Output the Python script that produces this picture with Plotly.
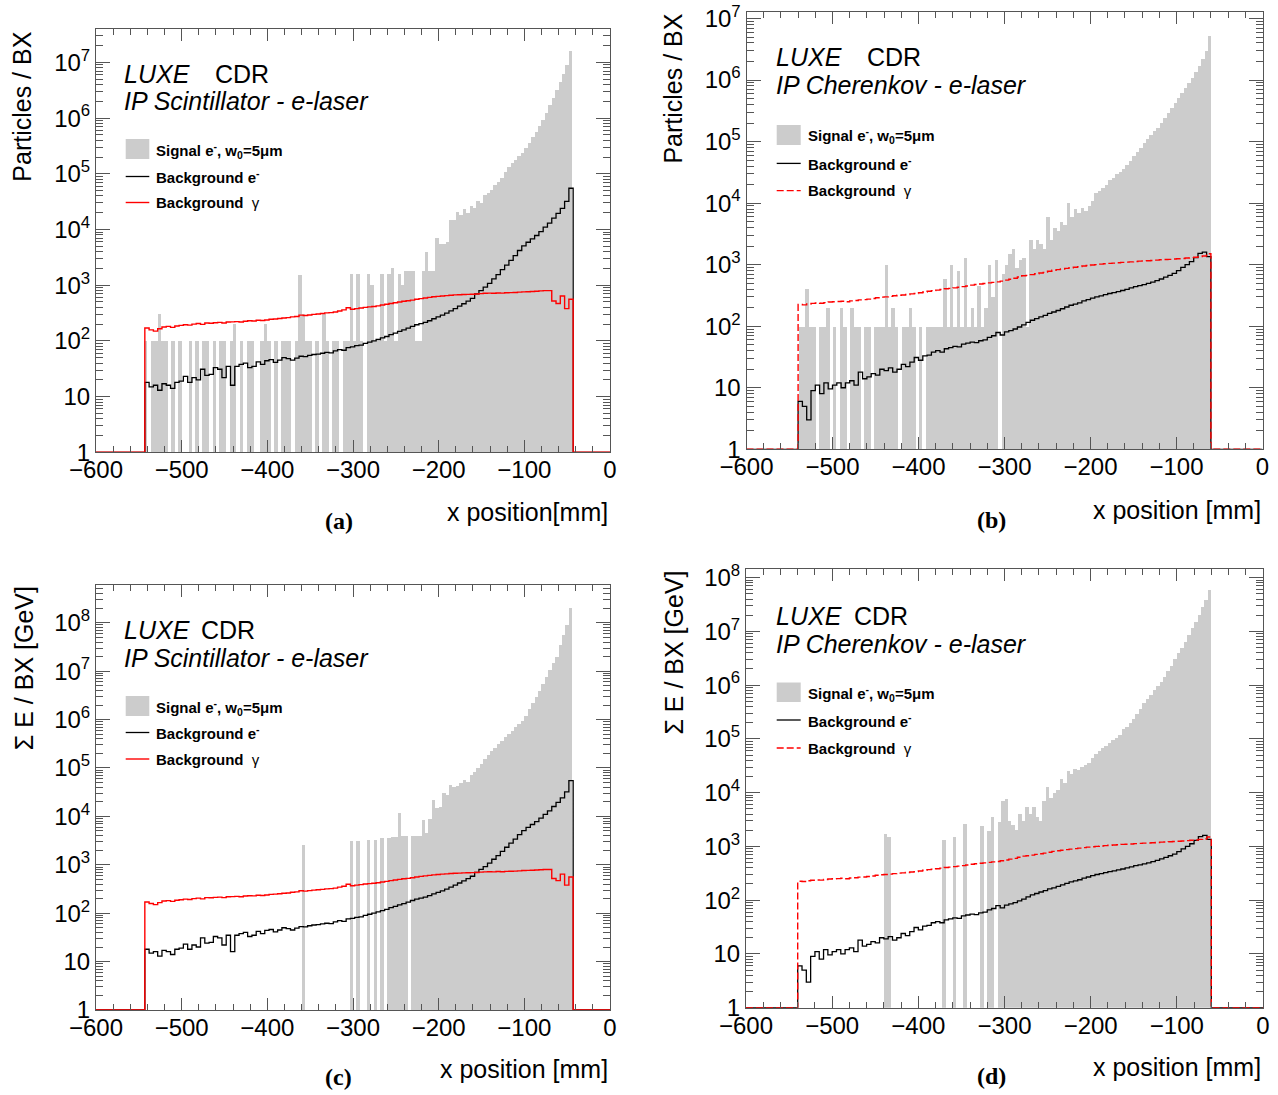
import numpy as np
import plotly.graph_objects as go

W, H = 1278, 1095

# ---------------- data ----------------
# Signal e- histograms: 4 mm bins, first bin left edge given
SIG_BIN = 4
SIG_AC_START = -544
SIG_BD_START = -540

signal_a = [
    100, 0, 100, 100, 300, 100, 100, 0, 100, 0,
    100, 0, 0, 100, 0, 100, 0, 100, 100, 0,
    100, 0, 100, 100, 0, 100, 200, 0, 100, 0,
    100, 100, 0, 0, 100, 200, 100, 0, 100, 0,
    100, 100, 100, 0, 100, 1500, 300, 100, 100, 0,
    100, 0, 300, 100, 0, 100, 100, 0, 100, 100,
    1600, 100, 1600, 100, 0, 1600, 1000, 100, 100, 1600,
    100, 1600, 2000, 100, 1600, 1000, 1800, 1800, 1800, 100,
    100, 1800, 4000, 1800, 1800, 7000, 5500, 5500, 6000, 15000,
    15000, 21000, 18000, 23500, 20000, 26500, 24000, 32000, 30000, 41000,
    46000, 52000, 63000, 72000, 85000, 1.07e5, 1.35e5, 1.55e5, 1.8e5, 2.05e5,
    2.4e5, 2.9e5, 3.6e5, 4.6e5, 5.7e5, 7.2e5, 9.3e5, 1.26e6, 1.7e6, 2.3e6,
    3.2e6, 4.5e6, 6.3e6, 8.9e6, 1.6e7,
]

signal_c = (
    [0] * 40 +
    [0, 0, 0, 0, 0, 0, 2600, 0, 0, 0] +
    [0] * 10 +
    [3100, 0, 3100, 0, 0, 3300, 0, 3300, 0, 3600,
     0, 3600, 3700, 3700, 12000, 3900, 3900, 0, 3900, 3900,
     4000, 8500, 4500, 9000, 22000, 15000, 16000, 30000, 28000, 45000,
     40000, 43000, 49000, 56000, 52000, 72000, 83000, 1.0e5, 1.2e5, 1.5e5,
     1.85e5, 2.2e5, 2.6e5, 3.1e5, 3.6e5, 4.3e5, 5.0e5, 5.9e5, 6.9e5, 8.1e5,
     9.5e5, 1.2e6, 1.65e6, 2.2e6, 2.9e6, 3.9e6, 5.4e6, 7.4e6, 1.05e7, 1.45e7,
     2.0e7, 3.4e7, 5.6e7, 9.2e7, 2.0e8]
)

signal_b = [
    100, 100, 400, 100, 100, 0, 100, 100, 200, 0,
    100, 0, 200, 100, 0, 200, 100, 100, 0, 100,
    100, 0, 100, 100, 100, 1000, 100, 200, 100, 0,
    100, 100, 200, 100, 0, 100, 0, 100, 100, 100,
    100, 100, 600, 100, 1000, 100, 800, 100, 1300, 100,
    200, 100, 450, 100, 200, 1000, 300, 1200, 0, 700,
    1000, 1500, 1800, 900, 1200, 1300, 100, 2500, 1800, 2500,
    2200, 1800, 6000, 2500, 4000, 3500, 5000, 4500, 10000, 6000,
    8000, 7000, 8500, 7500, 9000, 11000, 15000, 16000, 18000, 20000,
    24000, 26000, 30000, 32000, 36000, 42000, 48000, 58000, 68000, 80000,
    95000, 1.1e5, 1.3e5, 1.5e5, 1.7e5, 2.0e5, 2.4e5, 2.9e5, 3.5e5, 4.3e5,
    5.2e5, 6.2e5, 7.5e5, 9.0e5, 1.1e6, 1.35e6, 1.7e6, 2.2e6, 3.0e6, 5.2e6,
]

signal_d = (
    [0] * 20 +
    [0, 0, 0, 0, 0, 1700, 1500, 0, 0, 0] +
    [0] * 10 +
    [0, 0, 1300, 0, 0, 1500, 0, 0, 2600, 0,
     0, 0, 0, 2400, 0, 1900, 3500, 0, 2900, 7000,
     7500, 3000, 2500, 2000, 4000, 3000, 5500, 4000, 5500, 3500,
     3000, 7000, 13000, 8000, 10000, 11000, 18000, 15000, 25000, 22000,
     28000, 26000, 30000, 32000, 35000, 45000, 52000, 60000, 68000, 75000,
     85000, 95000, 1.05e5, 1.2e5, 1.5e5, 1.7e5, 2.0e5, 2.3e5, 2.9e5, 3.6e5,
     4.6e5, 5.5e5, 6.5e5, 8.0e5, 9.5e5, 1.15e6, 1.4e6, 1.8e6, 2.3e6, 3.0e6,
     4.0e6, 5.0e6, 6.3e6, 8.5e6, 1.15e7, 1.5e7, 2.0e7, 2.8e7, 3.8e7, 5.8e7]
)

# Background histograms: 5 mm bins
BKG_BIN = 5
BKG_AC_START = -543
BKG_BD_START = -540

bkg_e_ac = [
    18, 15, 16, 13, 17, 16, 14, 18, 19, 23,
    18, 22, 20, 31, 24, 25, 33, 31, 22, 35,
    16, 35, 38, 40, 33, 35, 42, 38, 44, 46,
    41, 45, 50, 48, 45, 49, 53, 52, 55, 57,
    58, 60, 62, 61, 66, 70, 68, 76, 78, 82,
    84, 90, 95, 100, 106, 113, 120, 130, 138, 148,
    158, 170, 183, 195, 205, 215, 230, 250, 270, 290,
    315, 345, 380, 420, 465, 520, 580, 700, 800, 920,
    1080, 1300, 1550, 1900, 2300, 2800, 3400, 4200, 5100, 5900,
    6800, 7800, 9200, 11000, 13000, 16000, 19500, 24000, 32000, 55000,
]

bkg_g_ac = [
    170, 158, 150, 165, 178, 182, 175, 185, 190, 195,
    192, 200, 205, 198, 210, 208, 212, 215, 210, 218,
    220, 222, 218, 226, 230, 228, 235, 232, 238, 245,
    248, 252, 258, 262, 270, 275, 290, 285, 292, 300,
    305, 310, 318, 322, 330, 345, 360, 395, 370, 380,
    390, 400, 408, 415, 425, 440, 455, 470, 485, 500,
    515, 525, 540, 560, 575, 590, 605, 620, 630, 640,
    650, 660, 670, 672, 680, 685, 690, 695, 705, 715,
    720, 715, 725, 720, 730, 735, 740, 750, 760, 765,
    770, 780, 790, 800, 800, 520, 470, 640, 380, 560,
]

bkg_e_bd = [
    6, 5, 3, 9, 11, 8, 12, 9.6, 11, 12,
    10, 12, 13, 11, 18, 14, 15, 17, 16, 20,
    19, 21, 18, 20, 24, 22, 26, 31, 28, 33,
    34, 38, 40, 38, 43, 45, 47, 46, 51, 53,
    55, 54, 58, 60, 66, 70, 79, 72, 81, 85,
    90, 97, 105, 115, 125, 133, 142, 150, 162, 170,
    180, 192, 205, 219, 228, 240, 258, 270, 285, 300,
    312, 325, 340, 352, 365, 380, 398, 418, 438, 455,
    475, 495, 520, 550, 585, 625, 670, 720, 800, 900,
    1000, 1120, 1300, 1520, 1600, 1350,
]

bkg_g_bd = [
    225, 222, 230, 235, 238, 236, 242, 248, 250, 252,
    255, 250, 258, 262, 268, 270, 275, 282, 290, 297,
    300, 305, 312, 318, 322, 328, 335, 340, 350, 360,
    370, 378, 385, 395, 405, 412, 420, 430, 440, 450,
    465, 475, 485, 495, 505, 515, 525, 540, 560, 580,
    600, 630, 660, 670, 690, 710, 730, 750, 780, 810,
    830, 850, 870, 890, 910, 930, 950, 970, 985, 1000,
    1020, 1035, 1050, 1060, 1075, 1090, 1100, 1110, 1125, 1140,
    1150, 1160, 1170, 1185, 1200, 1210, 1220, 1235, 1250, 1260,
    1280, 1300, 1320, 1350, 1380, 1500,
]

X_TICKS = [-600, -500, -400, -300, -200, -100, 0]

# ---------------- styling ----------------
SANS = "Liberation Sans, Arial, Helvetica, sans-serif"
SERIF = "Liberation Serif, Times New Roman, serif"
FRAME = "#555555"
GREY = "#cccccc"
RED = "#ff0000"


def px(x):
    return x / W


def py(y):
    return 1 - y / H


panels = [
    dict(xd=(96, 610), yd=(29, 452.3), ymax=7.6, top=7, sig=signal_a, s0=SIG_AC_START,
         e=bkg_e_ac, g=bkg_g_ac, b0=BKG_AC_START, dashed=False,
         luxe=(122.4, 74), cdr_x=213, ip=(122.4, 101.4), sub="IP Scintillator - e-laser",
         rect=(125.7, 139, 149.3, 159), tx=154, ly=(150.7, 176.5, 202.5),
         yt="Particles / BX", ytx=22.4, yty=29.3, xt="x position[mm]", xtr=610, xty=512,
         lab="(a)", labxy=(338.8, 521)),
    dict(xd=(746.5, 1262.5), yd=(11.7, 449.3), ymax=7.11, top=7, sig=signal_b, s0=SIG_BD_START,
         e=bkg_e_bd, g=bkg_g_bd, b0=BKG_BD_START, dashed=True,
         luxe=(774.4, 57.1), cdr_x=864.9, ip=(774.4, 85), sub="IP Cherenkov - e-laser",
         rect=(776.7, 125, 800.7, 145), tx=805.7, ly=(136, 163.4, 190.6),
         yt="Particles / BX", ytx=672.6, yty=12, xt="x position [mm]", xtr=1263, xty=510,
         lab="(b)", labxy=(991.6, 520)),
    dict(xd=(96, 610), yd=(585, 1010), ymax=8.78, top=8, sig=signal_c, s0=SIG_AC_START,
         e=bkg_e_ac, g=bkg_g_ac, b0=BKG_AC_START, dashed=False,
         luxe=(122.4, 629.7), cdr_x=198.7, ip=(122.4, 657.5), sub="IP Scintillator - e-laser",
         rect=(125.7, 696, 149.3, 716), tx=154, ly=(707, 732.5, 759),
         yt="Σ E / BX [GeV]", ytx=23.5, yty=584.7, xt="x position [mm]", xtr=610, xty=1069,
         lab="(c)", labxy=(338, 1077)),
    dict(xd=(746, 1263), yd=(569, 1007.7), ymax=8.16, top=8, sig=signal_d, s0=SIG_BD_START,
         e=bkg_e_bd, g=bkg_g_bd, b0=BKG_BD_START, dashed=True,
         luxe=(774.4, 616), cdr_x=851.7, ip=(774.4, 643.7), sub="IP Cherenkov - e-laser",
         rect=(776.7, 682.5, 800.7, 702), tx=805.7, ly=(693, 720, 748),
         yt="Σ E / BX [GeV]", ytx=673.6, yty=569, xt="x position [mm]", xtr=1263, xty=1067,
         lab="(d)", labxy=(991, 1076)),
]


def step_xy(start, binw, vals):
    n = len(vals)
    xs = [-600] + [start + binw * i for i in range(n)] + [start + binw * n, 0]
    ys = [1] + list(vals) + [1, 1]
    return xs, ys


fig = go.Figure()
annotations = []
shapes = []
layout_axes = {}


def T(text, x, y, size=25, xa="left", ya="middle", family=SANS, angle=0):
    annotations.append(dict(text=text, x=px(x), y=py(y), xref="paper", yref="paper",
                            xanchor=xa, yanchor=ya, showarrow=False, textangle=angle,
                            font=dict(family=family, size=size, color="black")))


for k, p in enumerate(panels, start=1):
    xr = "x" if k == 1 else f"x{k}"
    yr = "y" if k == 1 else f"y{k}"

    # signal bars
    centers = [p["s0"] + SIG_BIN * (i + 0.5) for i in range(len(p["sig"]))]
    bx = [c for c, v in zip(centers, p["sig"]) if v > 0]
    by = [v for v in p["sig"] if v > 0]
    fig.add_trace(go.Bar(x=bx, y=by, width=SIG_BIN, marker=dict(color=GREY, line=dict(width=0)),
                         xaxis=xr, yaxis=yr, showlegend=False, hoverinfo="skip"))

    # background e- (black)
    xs, ys = step_xy(p["b0"], BKG_BIN, p["e"])
    fig.add_trace(go.Scatter(x=xs, y=ys, mode="lines", line=dict(color="black", width=1.3, shape="hv"),
                             xaxis=xr, yaxis=yr, showlegend=False, hoverinfo="skip"))
    # background gamma (red)
    xs, ys = step_xy(p["b0"], BKG_BIN, p["g"])
    fig.add_trace(go.Scatter(x=xs, y=ys, mode="lines",
                             line=dict(color=RED, width=1.4, shape="hv",
                                       dash="7px,3px" if p["dashed"] else "solid"),
                             xaxis=xr, yaxis=yr, showlegend=False, hoverinfo="skip"))

    yvals = [10 ** i for i in range(p["top"] + 1)]
    ytext = ["1", "10"] + [f"10<sup>{i}</sup>" for i in range(2, p["top"] + 1)]
    minor_vals = [m * 10 ** i for i in range(p["top"] + 1) for m in range(2, 10)]

    xname = "xaxis" if k == 1 else f"xaxis{k}"
    yname = "yaxis" if k == 1 else f"yaxis{k}"
    layout_axes[xname] = dict(
        domain=[px(p["xd"][0]), px(p["xd"][1])], range=[-600, 0], anchor=yr, automargin=False,
        tickmode="array", tickvals=X_TICKS, ticks="inside", ticklen=12, tickwidth=1,
        tickcolor=FRAME, showline=True, linecolor=FRAME, linewidth=1, mirror="ticks",
        showgrid=False, zeroline=False, ticklabelstandoff=-4,
        tickfont=dict(family=SANS, size=24, color="black"),
        minor=dict(dtick=20, tick0=0, ticks="inside", ticklen=6, tickcolor=FRAME, showgrid=False),
    )
    layout_axes[yname] = dict(
        domain=[py(p["yd"][1]), py(p["yd"][0])], type="log", range=[0, p["ymax"]], anchor=xr,
        automargin=False,
        tickmode="array", tickvals=yvals, ticktext=ytext, ticks="inside", ticklen=14, tickwidth=1,
        tickcolor=FRAME, showline=True, linecolor=FRAME, linewidth=1, mirror="ticks",
        showgrid=False, zeroline=False,
        tickfont=dict(family=SANS, size=24, color="black"),
        minor=dict(tickmode="array", tickvals=minor_vals, ticks="inside", ticklen=7,
                   tickcolor=FRAME, showgrid=False),
    )

    # texts
    T("<i>LUXE</i>", p["luxe"][0], p["luxe"][1])
    T("CDR", p["cdr_x"], p["luxe"][1])
    T(f"<i>{p['sub']}</i>", p["ip"][0], p["ip"][1])

    # legend
    x0, y0, x1, y1 = p["rect"]
    shapes.append(dict(type="rect", xref="paper", yref="paper", x0=px(x0), x1=px(x1),
                       y0=py(y1), y1=py(y0), fillcolor=GREY, line=dict(width=0)))
    shapes.append(dict(type="line", xref="paper", yref="paper", x0=px(x0), x1=px(x1),
                       y0=py(p["ly"][1]), y1=py(p["ly"][1]), line=dict(color="black", width=1.3)))
    shapes.append(dict(type="line", xref="paper", yref="paper", x0=px(x0), x1=px(x1),
                       y0=py(p["ly"][2]), y1=py(p["ly"][2]),
                       line=dict(color=RED, width=1.4, dash="7px,3px" if p["dashed"] else "solid")))
    T("<b>Signal e<sup>-</sup>, w<sub>0</sub>=5μm</b>", p["tx"], p["ly"][0], size=15)
    T("<b>Background e<sup>-</sup></b>", p["tx"], p["ly"][1], size=15)
    T("<b>Background</b>  γ", p["tx"], p["ly"][2], size=15)

    # axis titles and panel label
    T(p["yt"], p["ytx"], p["yty"], size=25, xa="center", ya="top", angle=-90)
    T(p["xt"], p["xtr"], p["xty"], size=25, xa="right")
    T(f"<b>{p['lab']}</b>", p["labxy"][0], p["labxy"][1], size=24, xa="center", family=SERIF)

fig.update_layout(
    width=W, height=H, margin=dict(l=0, r=0, t=0, b=0, autoexpand=False),
    paper_bgcolor="white", plot_bgcolor="white", showlegend=False, bargap=0,
    annotations=annotations, shapes=shapes, **layout_axes,
)

fig.write_html("out.html", config={"displayModeBar": False},
               post_script="document.body.style.margin='0';")
